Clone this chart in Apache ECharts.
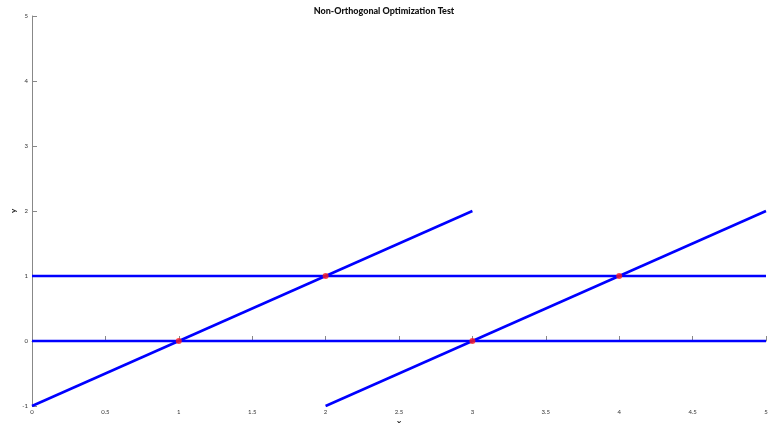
<!DOCTYPE html>
<html>
<head>
<meta charset="utf-8">
<script src="https://cdn.jsdelivr.net/npm/echarts@6/dist/echarts.min.js"></script>
<style>
  html, body { margin: 0; padding: 0; background: #fff; }
  #chart { width: 768px; height: 423px; }
</style>
</head>
<body>
<div id="chart"></div>
<script>
// lines: pairs of endpoints [x, y]
const lineH0 = [[0, 0], [5, 0]]
const lineH1 = [[0, 1], [5, 1]]
const lineD0 = [[0, -1], [3, 2]]
const lineD1 = [[2, -1], [5, 2]]
// intersection points (red)
const crossPts = [[1, 0], [2, 1], [3, 0], [4, 1]]

const chart = echarts.init(document.getElementById('chart'))

const axisGray = '#888'
const lineStyle = { color: '#0000ff', width: 2.5 }

function lineSeries(data) {
  return {
    type: 'line',
    data,
    symbol: 'none',
    lineStyle,
    silent: true,
    z: 2,
  }
}

chart.setOption({
  animation: false,
  title: {
    text: 'Non-Orthogonal Optimization Test',
    left: 'center',
    top: 2,
    textStyle: { fontFamily: 'Lato', fontWeight: 900, fontSize: 9, color: '#111' },
  },
  grid: { left: 32, right: 2, top: 16, bottom: 17, outerBoundsMode: 'none', containLabel: false },
  xAxis: {
    type: 'value',
    min: 0,
    max: 5,
    interval: 0.5,
    name: 'x',
    nameLocation: 'middle',
    nameGap: 12,
    nameMoveOverlap: false,
    nameTextStyle: { fontFamily: 'Lato', fontWeight: 'bold', fontSize: 8, color: '#111' },
    axisLine: { lineStyle: { color: axisGray, width: 1 } },
    axisTick: { inside: true, length: 5, lineStyle: { color: axisGray } },
    axisLabel: { fontSize: 6, color: '#333', margin: 3, fontFamily: 'Lato' },
    splitLine: { show: false },
  },
  yAxis: {
    type: 'value',
    min: -1,
    max: 5,
    interval: 1,
    name: 'y',
    nameLocation: 'middle',
    nameGap: 15,
    nameMoveOverlap: false,
    nameRotate: 90,
    nameTextStyle: { fontFamily: 'Lato', fontWeight: 'bold', fontSize: 8, color: '#111' },
    axisLine: { show: true, lineStyle: { color: axisGray, width: 1 } },
    axisTick: { show: true, inside: true, length: 5, lineStyle: { color: axisGray } },
    axisLabel: { fontSize: 6, color: '#333', margin: 4, fontFamily: 'Lato' },
    splitLine: { show: false },
  },
  series: [
    lineSeries(lineH0),
    lineSeries(lineH1),
    lineSeries(lineD0),
    lineSeries(lineD1),
    {
      type: 'scatter',
      data: crossPts,
      symbolSize: 6,
      itemStyle: { color: '#ff1a1a' },
      z: 3,
    },
  ],
})
</script>
</body>
</html>
